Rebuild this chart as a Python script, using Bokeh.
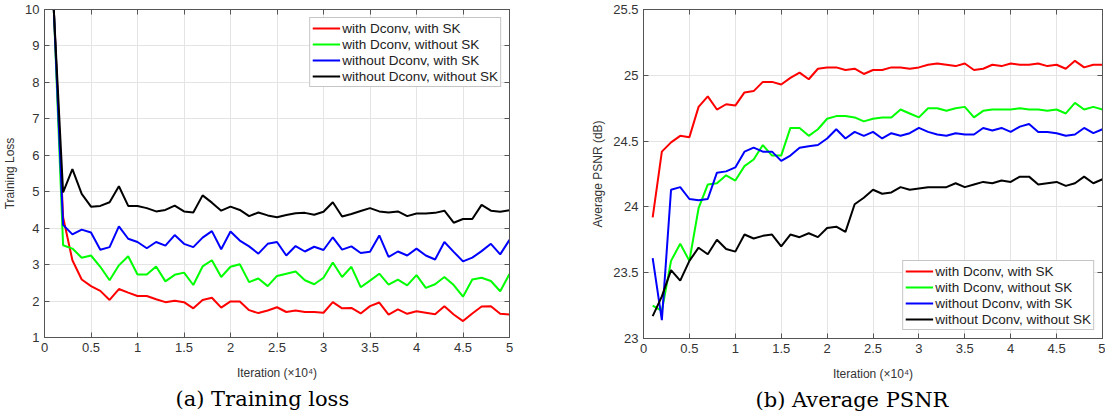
from bokeh.plotting import figure
from bokeh.models import Range1d, FixedTicker, NumeralTickFormatter, LinearAxis, Title
from bokeh.layouts import row
from bokeh.embed import file_html
from bokeh.resources import INLINE

iters = [0.1, 0.2, 0.3, 0.4, 0.5, 0.6, 0.7, 0.8, 0.9, 1.0,
         1.1, 1.2, 1.3, 1.4, 1.5, 1.6, 1.7, 1.8, 1.9, 2.0,
         2.1, 2.2, 2.3, 2.4, 2.5, 2.6, 2.7, 2.8, 2.9, 3.0,
         3.1, 3.2, 3.3, 3.4, 3.5, 3.6, 3.7, 3.8, 3.9, 4.0,
         4.1, 4.2, 4.3, 4.4, 4.5, 4.6, 4.7, 4.8, 4.9, 5.0]

loss_dconv_sk = [10, 4.30, 3.12, 2.59, 2.41, 2.28, 2.03, 2.33, 2.23, 2.14,
                 2.14, 2.05, 1.97, 2.01, 1.97, 1.80, 2.03, 2.09, 1.82, 1.99,
                 1.99, 1.75, 1.67, 1.74, 1.83, 1.70, 1.74, 1.70, 1.70, 1.68,
                 1.97, 1.80, 1.81, 1.66, 1.86, 1.96, 1.63, 1.77, 1.65, 1.72,
                 1.68, 1.64, 1.86, 1.63, 1.45, 1.66, 1.85, 1.86, 1.65, 1.63]
loss_dconv_nosk = [10, 3.53, 3.44, 3.19, 3.25, 2.94, 2.57, 2.98, 3.23, 2.73,
                   2.73, 2.95, 2.54, 2.72, 2.78, 2.44, 2.95, 3.12, 2.66, 2.94,
                   3.01, 2.52, 2.62, 2.41, 2.69, 2.75, 2.81, 2.57, 2.46, 2.64,
                   3.06, 2.66, 2.94, 2.38, 2.56, 2.75, 2.45, 2.59, 2.43, 2.71,
                   2.36, 2.46, 2.66, 2.44, 2.12, 2.59, 2.64, 2.55, 2.27, 2.74]
loss_nodconv_sk = [10, 4.09, 3.83, 3.96, 3.88, 3.41, 3.48, 4.05, 3.71, 3.62,
                   3.45, 3.62, 3.52, 3.81, 3.57, 3.48, 3.74, 3.92, 3.42, 3.91,
                   3.66, 3.50, 3.30, 3.57, 3.62, 3.25, 3.51, 3.36, 3.49, 3.40,
                   3.75, 3.41, 3.50, 3.32, 3.35, 3.80, 3.21, 3.36, 3.25, 3.44,
                   3.25, 3.14, 3.62, 3.35, 3.09, 3.19, 3.37, 3.57, 3.28, 3.68]
loss_nodconv_nosk = [10, 4.98, 5.62, 4.94, 4.59, 4.61, 4.71, 5.15, 4.61, 4.61,
                     4.55, 4.46, 4.50, 4.62, 4.46, 4.43, 4.90, 4.70, 4.48, 4.59,
                     4.50, 4.33, 4.43, 4.35, 4.30, 4.36, 4.41, 4.42, 4.37, 4.45,
                     4.71, 4.32, 4.39, 4.47, 4.55, 4.46, 4.43, 4.46, 4.33, 4.40,
                     4.40, 4.42, 4.48, 4.15, 4.25, 4.25, 4.64, 4.48, 4.45, 4.49]

psnr_dconv_sk = [23.92, 24.42, 24.49, 24.54, 24.53, 24.76, 24.84, 24.74, 24.78, 24.77,
                 24.87, 24.88, 24.95, 24.95, 24.93, 24.98, 25.02, 24.97, 25.05, 25.06,
                 25.06, 25.04, 25.05, 25.01, 25.04, 25.04, 25.06, 25.06, 25.05, 25.06,
                 25.08, 25.09, 25.08, 25.07, 25.09, 25.04, 25.05, 25.08, 25.07, 25.09,
                 25.08, 25.08, 25.09, 25.07, 25.08, 25.05, 25.11, 25.06, 25.08, 25.08]
psnr_dconv_nosk = [23.25, 23.21, 23.59, 23.72, 23.59, 23.99, 24.17, 24.18, 24.24, 24.20,
                   24.31, 24.36, 24.47, 24.39, 24.39, 24.60, 24.60, 24.54, 24.59, 24.67,
                   24.69, 24.69, 24.68, 24.65, 24.67, 24.68, 24.68, 24.74, 24.71, 24.68,
                   24.75, 24.75, 24.73, 24.75, 24.76, 24.68, 24.73, 24.74, 24.74, 24.74,
                   24.75, 24.74, 24.74, 24.73, 24.74, 24.71, 24.79, 24.74, 24.76, 24.74]
psnr_nodconv_sk = [23.61, 23.14, 24.13, 24.15, 24.06, 24.05, 24.06, 24.26, 24.27, 24.30,
                   24.42, 24.45, 24.42, 24.42, 24.35, 24.39, 24.45, 24.46, 24.47, 24.52,
                   24.59, 24.52, 24.57, 24.54, 24.57, 24.52, 24.56, 24.54, 24.56, 24.60,
                   24.57, 24.55, 24.54, 24.56, 24.55, 24.55, 24.60, 24.58, 24.60, 24.57,
                   24.61, 24.63, 24.57, 24.57, 24.56, 24.54, 24.55, 24.60, 24.56, 24.59]
psnr_nodconv_nosk = [23.17, 23.32, 23.52, 23.44, 23.59, 23.69, 23.64, 23.75, 23.68, 23.66,
                     23.79, 23.76, 23.78, 23.79, 23.70, 23.79, 23.77, 23.80, 23.77, 23.84,
                     23.85, 23.81, 24.02, 24.07, 24.13, 24.10, 24.11, 24.15, 24.13, 24.14,
                     24.15, 24.15, 24.15, 24.18, 24.15, 24.17, 24.19, 24.18, 24.20, 24.19,
                     24.23, 24.23, 24.17, 24.18, 24.19, 24.16, 24.18, 24.23, 24.18, 24.21]

series_names = ["with Dconv, with SK", "with Dconv, without SK",
                "without Dconv, with SK", "without Dconv, without SK"]
series_colors = ["#ff0000", "#00ff00", "#0000ff", "#000000"]

x_ticks = [0, 0.5, 1, 1.5, 2, 2.5, 3, 3.5, 4, 4.5, 5]
loss_ticks = [1, 2, 3, 4, 5, 6, 7, 8, 9, 10]
psnr_ticks = [23, 23.5, 24, 24.5, 25, 25.5]

x_label = "Iteration (\u00d710\u2074)"
SANS = "Liberation Sans"
SERIF = "DejaVu Serif"
AX = "#333333"
EDGE = "#555555"


def make_panel(ys, y_lo, y_hi, y_ticks, y_label, caption, legend_loc,
               fw, fh, bl, br, bt, cap_offset):
    p = figure(frame_width=fw, frame_height=fh,
               x_range=Range1d(0, 5), y_range=Range1d(y_lo, y_hi),
               output_backend="svg", toolbar_location=None,
               min_border_left=bl, min_border_right=br,
               min_border_top=bt, min_border_bottom=416 - bt - fh,
               x_axis_label=x_label, y_axis_label=y_label)
    p.background_fill_color = "white"
    p.border_fill_color = "white"
    p.outline_line_color = EDGE
    p.outline_line_width = 1

    for y, name, c in zip(ys, series_names, series_colors):
        p.line(iters, y, line_color=c, line_width=2, legend_label=name)

    p.xaxis.ticker = FixedTicker(ticks=x_ticks)
    p.yaxis.ticker = FixedTicker(ticks=y_ticks)
    p.xaxis.formatter = NumeralTickFormatter(format="0.[0]")
    p.yaxis.formatter = NumeralTickFormatter(format="0.[0]")

    for ax in p.axis:
        ax.major_tick_in = 5
        ax.major_tick_out = 0
        ax.minor_tick_in = 0
        ax.minor_tick_out = 0
        ax.axis_line_color = EDGE
        ax.major_tick_line_color = EDGE
        ax.major_label_text_font = SANS
        ax.major_label_text_font_size = "13px"
        ax.major_label_text_color = AX
        ax.axis_label_text_font = SANS
        ax.axis_label_text_font_size = "12px"
        ax.axis_label_text_font_style = "normal"
        ax.axis_label_text_color = AX
        ax.major_label_standoff = 5
    p.xaxis.axis_label_standoff = 11
    p.yaxis.axis_label_standoff = 5

    # tick marks on the top and right edges of the box (no labels)
    top = LinearAxis(ticker=FixedTicker(ticks=x_ticks))
    right = LinearAxis(ticker=FixedTicker(ticks=y_ticks))
    for ax in (top, right):
        ax.major_tick_in = 5
        ax.major_tick_out = 0
        ax.minor_tick_in = 0
        ax.minor_tick_out = 0
        ax.axis_line_color = EDGE
        ax.major_tick_line_color = EDGE
        ax.major_label_text_color = None
        ax.major_label_text_font_size = "0px"
        ax.major_label_standoff = 0
    p.add_layout(top, "above")
    p.add_layout(right, "right")

    p.grid.grid_line_color = "#e4e4e4"
    p.grid.grid_line_width = 1

    lg = p.legend[0]
    lg.location = legend_loc
    lg.margin = 8
    lg.padding = 2
    lg.spacing = 0
    lg.label_height = 16
    lg.glyph_height = 16
    lg.glyph_width = 28
    lg.label_standoff = 2
    lg.label_text_font = SANS
    lg.label_text_font_size = "13.5px"
    lg.label_text_color = "#222222"
    lg.border_line_color = "#8c8c8c"
    lg.border_line_width = 1
    lg.background_fill_color = "white"
    lg.background_fill_alpha = 1

    cap = Title(text=caption, text_font=SERIF, text_font_size="21px",
                text_font_style="normal", text_color="black",
                align="left", offset=cap_offset, standoff=4)
    p.add_layout(cap, "below")
    return p


p1 = make_panel([loss_dconv_sk, loss_dconv_nosk, loss_nodconv_sk, loss_nodconv_nosk],
                1, 10, loss_ticks, "Training Loss", "(a) Training loss", "top_right",
                465, 328, 44, 51, 9, 131)
p2 = make_panel([psnr_dconv_sk, psnr_dconv_nosk, psnr_nodconv_sk, psnr_nodconv_nosk],
                23, 25.5, psnr_ticks, "Average PSNR (dB)", "(b) Average PSNR", "bottom_right",
                459, 329, 83, 3, 8, 112)

layout = row(p1, p2)
open("out.html", "w").write(file_html(layout, INLINE))
